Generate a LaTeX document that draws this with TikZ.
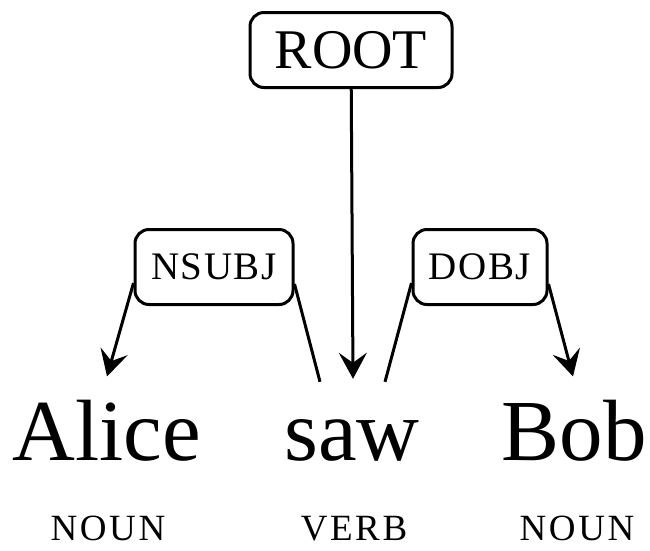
\documentclass[tikz,border=0pt]{standalone}
\usepackage{fontspec}
\setmainfont{Liberation Serif}
\newfontfamily\labfont[LetterSpace=4]{Liberation Serif}
\newfontfamily\tagfont[LetterSpace=7]{Liberation Serif}
\usetikzlibrary{arrows.meta}

\begin{document}
\begin{tikzpicture}[x=1pt, y=-1pt,
    lab/.style={draw, rounded corners=14pt, line width=3pt, inner sep=0pt, minimum height=75pt},
    word/.style={anchor=base, inner sep=0pt, font=\fontsize{87}{90}\selectfont},
    tag/.style={anchor=base, inner sep=0pt, font=\tagfont\fontsize{37}{40}\selectfont},
    arr/.style={-{Stealth[length=26pt, width=28pt, inset=10pt]}}]

    \useasboundingbox (0,0) rectangle (650,550);

    % arc labels
    \node[lab, minimum width=202pt, font=\fontsize{56}{60}\selectfont] (ROOT) at (351,50) {ROOT};
    \node[lab, minimum width=158pt, font=\labfont\fontsize{39}{42}\selectfont] (NS) at (214,267) {NSUBJ};
    \node[lab, minimum width=134pt, font=\labfont\fontsize{39}{42}\selectfont] (DO) at (480,267) {DOBJ};

    % words and tags
    \node[word] (A) at (107,460) {Alice};
    \node[word] (S) at (352,460) {saw};
    \node[word] (B) at (574,460) {Bob};
    \node[tag] (TA) at (108,540) {NOUN};
    \node[tag] (TS) at (354,540) {VERB};
    \node[tag] (TB) at (577,540) {NOUN};

    \draw[line width=3pt, arr] (ROOT) -- ([xshift=1pt, yshift=40pt]S.north);
    \draw[line width=3pt] ([xshift=-32pt, yshift=37pt]S.north) -- ([yshift=-17pt]NS.east);
    \draw[line width=3pt, arr] ([yshift=-16pt]NS.west) -- ([yshift=23pt]A.north);
    \draw[line width=3pt] ([xshift=33pt, yshift=37pt]S.north) -- ([yshift=-16pt]DO.west);
    \draw[line width=3pt, arr] ([yshift=-17pt]DO.east) -- ([xshift=-1pt, yshift=23pt]B.north);

\end{tikzpicture}
\end{document}
